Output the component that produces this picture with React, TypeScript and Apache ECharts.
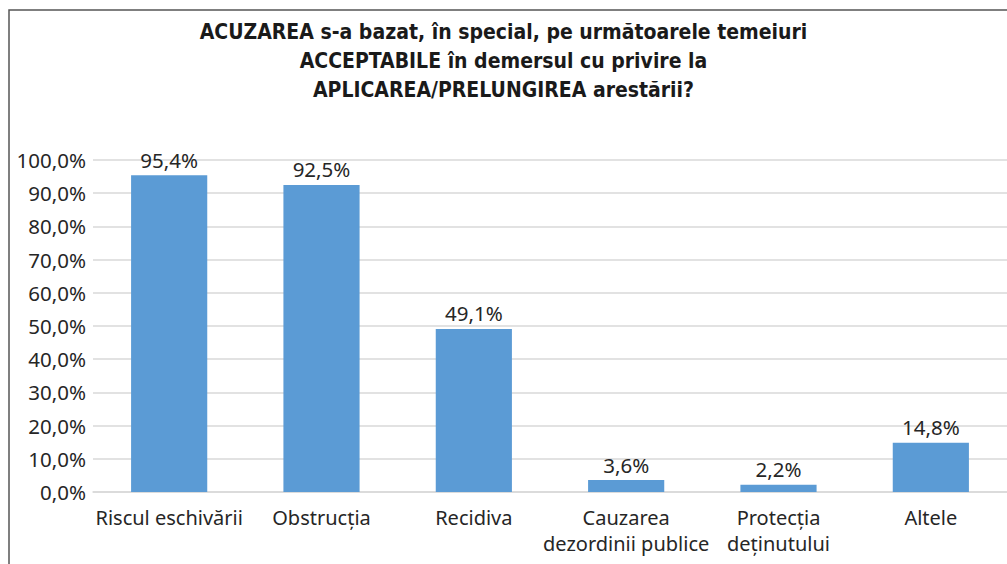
import React, { useEffect, useRef } from "react";
import * as echarts from "echarts";

const categories = [
  "Riscul eschivării",
  "Obstrucția",
  "Recidiva",
  "Cauzarea\ndezordinii publice",
  "Protecția\ndeținutului",
  "Altele",
];
const values = [95.4, 92.5, 49.1, 3.6, 2.2, 14.8];
const titleLines = [
  "ACUZAREA s-a bazat, în special, pe următoarele temeiuri",
  "ACCEPTABILE în demersul cu privire la",
  "APLICAREA/PRELUNGIREA arestării?",
];

const fmt = (v: number) => v.toFixed(1).replace(".", ",") + "%";

export default function App() {
  const ref = useRef<HTMLDivElement>(null);
  useEffect(() => {
    if (!ref.current) return;
    const chart = echarts.init(ref.current, undefined, { renderer: "svg" });
    const font = "'Noto Sans', 'Open Sans', sans-serif";
    chart.setOption({
      animation: false,
      backgroundColor: "#ffffff",
      title: {
        text: titleLines.join("\n"),
        left: "center",
        top: 12,
        textStyle: {
          fontFamily: "'Liberation Sans Narrow', 'DejaVu Sans Condensed', 'Noto Sans', sans-serif",
          fontWeight: "bold",
          fontSize: 21,
          lineHeight: 29,
          color: "#1a1a1a",
        },
      },
      graphic: [
        {
          type: "rect",
          shape: { x: 9, y: 10, width: 1010, height: 580 },
          style: { fill: "none", stroke: "#555555", lineWidth: 1.5 },
          silent: true,
        },
      ],
      grid: { left: 93, right: 0, top: 160, bottom: 72 },
      xAxis: {
        type: "category",
        data: categories,
        axisTick: { show: false },
        axisLine: { lineStyle: { color: "#d9d9d9", width: 1.5 } },
        axisLabel: {
          fontFamily: font,
          fontSize: 20,
          color: "#262626",
          margin: 12,
          lineHeight: 26,
          interval: 0,
        },
      },
      yAxis: {
        type: "value",
        min: 0,
        max: 100,
        interval: 10,
        axisLine: { show: false },
        axisTick: { show: false },
        splitLine: { lineStyle: { color: "#d9d9d9", width: 1.5 } },
        axisLabel: {
          fontFamily: font,
          fontSize: 20.5,
          color: "#262626",
          margin: 7,
          formatter: (v: number) => fmt(v),
        },
      },
      series: [
        {
          type: "bar",
          data: values,
          barWidth: "50%",
          itemStyle: { color: "#5b9bd5" },
          label: {
            show: true,
            position: "top",
            distance: 5,
            fontFamily: font,
            fontSize: 20.5,
            color: "#262626",
            formatter: (p: any) => fmt(p.value),
          },
        },
      ],
    });
    return () => chart.dispose();
  }, []);
  return (
    <div
      ref={ref}
      style={{ position: "absolute", left: 0, top: 0, width: 1007, height: 564 }}
    />
  );
}
